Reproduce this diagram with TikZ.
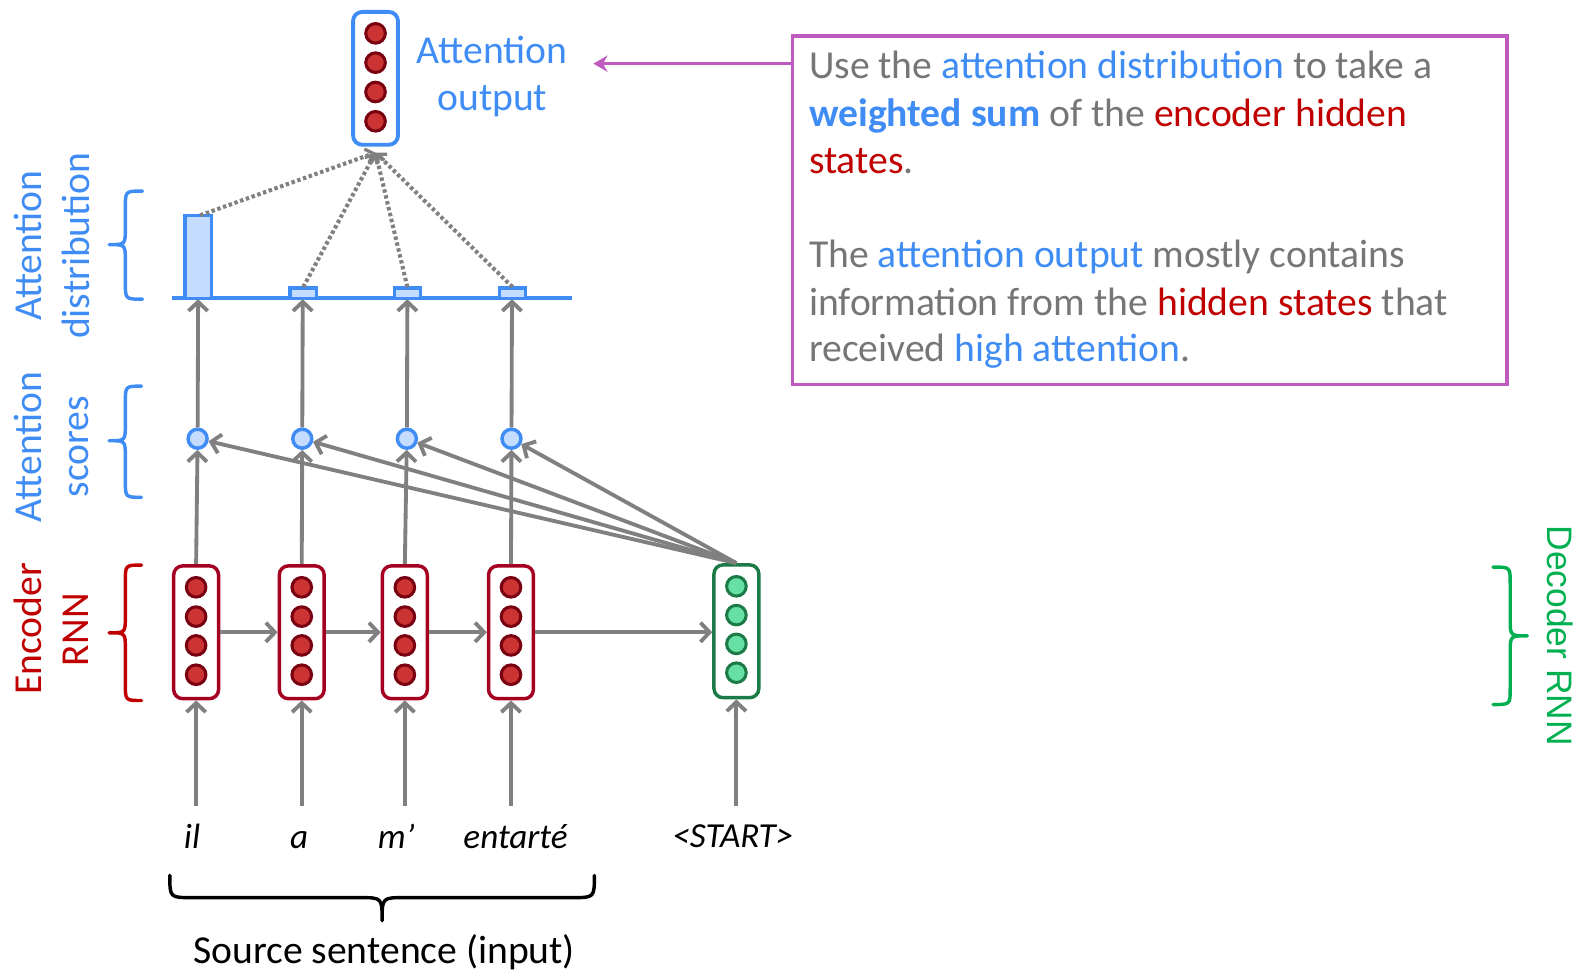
\documentclass[tikz,border=0pt]{standalone}
\usepackage{fontspec}
\setmainfont{Carlito}
\newfontfamily\arialfont{Liberation Sans}
\usetikzlibrary{arrows.meta}
\definecolor{attblue}{HTML}{3F8CF5}
\definecolor{attfill}{HTML}{C4DCFF}
\definecolor{encred}{HTML}{A50021}
\definecolor{unitred}{HTML}{CC3333}
\definecolor{unitredb}{HTML}{780010}
\definecolor{txtred}{HTML}{C00000}
\definecolor{decgreen}{HTML}{1B7A45}
\definecolor{unitgreen}{HTML}{66E0A3}
\definecolor{txtgreen}{HTML}{00B050}
\definecolor{purp}{HTML}{BF5BBF}
\definecolor{arrgray}{HTML}{808080}
\definecolor{txtgray}{HTML}{767676}
\begin{document}
\begin{tikzpicture}[x=0.5pt,y=-0.5pt,
  arr/.style={draw=arrgray, line width=1.9pt, -{Straight Barb[length=4.5pt,width=9.5pt,line width=1.9pt]}},
  dotarr/.style={draw=arrgray, line width=2pt, dash pattern=on 1.7pt off 1.3pt, -{Straight Barb[length=3.5pt,width=7pt,line width=1.6pt]}},
  encbox/.style={draw=encred, line width=1.7pt, rounded corners=4.5pt, minimum width=22.2pt, minimum height=65.7pt, fill=white, inner sep=0pt},
  decbox/.style={encbox, draw=decgreen},
  outbox/.style={encbox, draw=attblue, line width=1.9pt},
  redunit/.style={circle, draw=unitredb, fill=unitred, line width=1.5pt, minimum size=9.7pt, inner sep=0pt},
  greenunit/.style={redunit, draw=decgreen, fill=unitgreen},
  score/.style={circle, draw=attblue, fill=attfill, line width=1.7pt, minimum size=9.4pt, inner sep=0pt},
  bar/.style={draw=attblue, fill=attfill, line width=1.6pt},
  brace/.style={line width=1.7pt, line cap=round, line join=round},
  lbl/.style={font=\fontsize{19.6}{23}\selectfont, inner sep=0pt, anchor=base},
  word/.style={font=\fontsize{17.4}{20}\selectfont\itshape, inner sep=0pt, anchor=base},
  boxtxt/.style={font=\fontsize{19.6}{23}\selectfont, text=txtgray, inner sep=0pt, anchor=base west}
]
\useasboundingbox (0,0) rectangle (1568,961);

% ---------- encoder RNN ----------
\foreach \i/\x in {1/194,2/298.5,3/400.5,4/505.5}{
  \node[encbox] (e\i) at (\x,625.5) {};
  \foreach \j/\y in {1/581,2/610,3/638.5,4/667.5}
    \node[redunit] (e\i-\j) at (\x,\y) {};
}
% ---------- decoder RNN ----------
\node[decbox] (d) at (728.5,624.5) {};
\foreach \j/\y in {1/580,2/608.5,3/637,4/665.5}
  \node[greenunit] (d-\j) at (728.5,\y) {};
% ---------- attention output ----------
\node[outbox] (o) at (371.5,77.5) {};
\foreach \j/\y in {1/33,2/62,3/91,4/120}
  \node[redunit] (o-\j) at (371.5,\y) {};
\node[lbl, text=attblue] (ol1) at (487,62.6) {Attention};
\node[lbl, text=attblue] (ol2) at (487,109) {output};

% ---------- attention scores ----------
\foreach \i/\x in {1/195.5,2/299,3/402.5,4/506}
  \node[score] (s\i) at (\x,434) {};

% ---------- attention distribution ----------
\draw[attblue, line width=1.7pt] (170,295) -- (566,295);
\draw[bar] (183,213) rectangle (209,295);
\draw[bar] (287,285) rectangle (313,295);
\draw[bar] (390,285) rectangle (416,295);
\draw[bar] (494,285) rectangle (520,295);
\coordinate (a1) at (198,213);
\coordinate (a2) at (300,284);
\coordinate (a3) at (403,284);
\coordinate (a4) at (507,284);
\coordinate (oc) at (371.5,151);
\foreach \i in {1,...,4} \draw[dotarr] (a\i) -- (oc);

% baseline points for score arrows
\coordinate (b1) at (196,296);
\coordinate (b2) at (299.5,296);
\coordinate (b3) at (403,296);
\coordinate (b4) at (506.5,296);
\foreach \i in {1,...,4} \draw[arr] (s\i) -- (b\i);

% encoder -> scores
\foreach \i in {1,...,4} \draw[arr] (e\i.north) -- (s\i);
% decoder -> scores
\foreach \i in {1,...,4} \draw[arr] (d.north) -- (s\i);
% recurrent arrows
\draw[arr] (e1) -- (e2);
\draw[arr] (e2) -- (e3);
\draw[arr] (e3) -- (e4);
\draw[arr] (e4.east) -- (d.west |- e4.east);

% ---------- inputs ----------
\node[word] (w1) at (190,839) {il};
\node[word] (w2) at (296,839) {a};
\node[word] (w3) at (392,839) {m’};
\node[word] (w4) at (510,839) {entarté};
\node[word] (w5) at (725,838) {<START>};
\coordinate (i1) at (194,797);
\coordinate (i2) at (298.5,797);
\coordinate (i3) at (400.5,797);
\coordinate (i4) at (505.5,797);
\coordinate (i5) at (728.5,797);
\foreach \i in {1,...,4} \draw[arr] (i\i) -- (e\i);
\draw[arr] (i5) -- (d);

% bottom brace
\draw[brace, black] (168,866) .. controls (168,888) .. (190,888) -- (356,888)
  .. controls (378,888) .. (378,911) .. controls (378,888) .. (400,888) -- (566,888)
  .. controls (588,888) .. (588,866);
\node[lbl, text=black] (src) at (380,953) {Source sentence (input)};

% ---------- left braces and labels ----------
% attention distribution
\draw[brace, attblue] (141,189) .. controls (124,189) .. (124,205) -- (124,226)
  .. controls (124,242) .. (108,242) .. controls (124,242) .. (124,258) -- (124,280)
  .. controls (124,296) .. (141,296);
\node[lbl, text=attblue, rotate=90] (ld1) at (41.5,243) {Attention};
\node[lbl, text=attblue, rotate=90] (ld2) at (89,243) {distribution};
% attention scores
\draw[brace, attblue] (140,382) .. controls (124,382) .. (124,398) -- (124,420)
  .. controls (124,436) .. (108,436) .. controls (124,436) .. (124,452) -- (124,476)
  .. controls (124,492) .. (140,492);
\node[lbl, text=attblue, rotate=90] (ls1) at (41,442) {Attention};
\node[lbl, text=attblue, rotate=90] (ls2) at (88,442) {scores};
% encoder
\draw[brace, txtred] (140,559) .. controls (124,559) .. (124,575) -- (124,610)
  .. controls (124,626) .. (108,626) .. controls (124,626) .. (124,642) -- (124,677)
  .. controls (124,693) .. (140,693);
\node[lbl, text=txtred, rotate=90] (le1) at (41,622) {Encoder};
\node[lbl, text=txtred, rotate=90] (le2) at (88,623) {RNN};
% decoder (right)
\draw[brace, txtgreen] (1477,561) .. controls (1494,561) .. (1494,577) -- (1494,613)
  .. controls (1494,629) .. (1511,629) .. controls (1494,629) .. (1494,645) -- (1494,681)
  .. controls (1494,697) .. (1477,697);
\node[inner sep=0pt, anchor=base, rotate=-90, text=txtgreen, font=\arialfont\fontsize{17.5}{20}\selectfont] (ldec) at (1531,629) {Decoder RNN};

% ---------- explanation box ----------
\node[draw=purp, line width=1.7pt, minimum width=353.5pt, minimum height=172.5pt, inner sep=0pt] (pb) at (1137.5,208) {};
\coordinate (pa) at (587,63);
\draw[draw=purp, line width=1.6pt, -{Stealth[length=7pt,width=8pt]}] (pb.west |- pa) -- (pa);
\node[boxtxt] (t1) at (800,78) {Use the \textcolor{attblue}{attention distribution} to take a};
\node[boxtxt] (t2) at (800,125) {\textcolor{attblue}{\bfseries weighted sum} of the \textcolor{txtred}{encoder hidden}};
\node[boxtxt] (t3) at (800,172) {\textcolor{txtred}{states}.};
\node[boxtxt] (t4) at (800,265) {The \textcolor{attblue}{attention output} mostly contains};
\node[boxtxt] (t5) at (800,312) {information from the \textcolor{txtred}{hidden states} that};
\node[boxtxt] (t6) at (800,358) {received \textcolor{attblue}{high attention}.};
\end{tikzpicture}
\end{document}
